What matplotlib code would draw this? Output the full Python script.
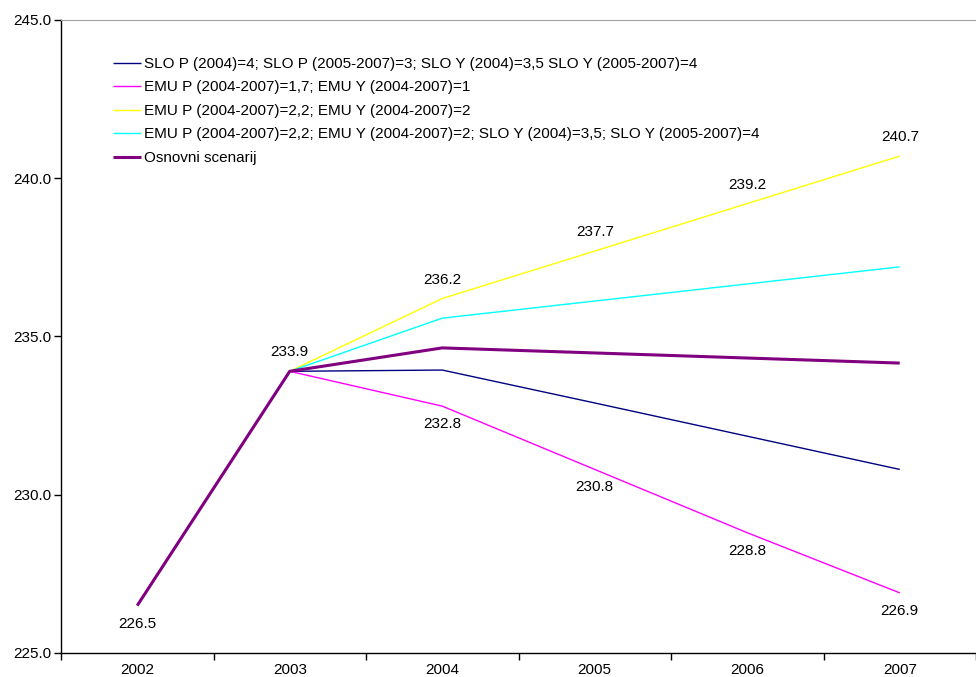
import matplotlib
matplotlib.use("Agg")
import matplotlib.pyplot as plt

plt.rcParams['font.family'] = ['Liberation Sans', 'DejaVu Sans']

years = ["2002", "2003", "2004", "2005", "2006", "2007"]

slo = [226.5, 233.9, 233.94, 232.9, 231.85, 230.8]
emu_low = [226.5, 233.9, 232.8, 230.8, 228.8, 226.9]
emu_high = [226.5, 233.9, 236.2, 237.7, 239.2, 240.7]
emu_slo = [226.5, 233.9, 235.58, 236.12, 236.66, 237.2]
base = [226.5, 233.9, 234.64, 234.48, 234.32, 234.16]

series_names = [
    "SLO P (2004)=4; SLO P (2005-2007)=3; SLO Y (2004)=3,5 SLO Y (2005-2007)=4",
    "EMU P (2004-2007)=1,7; EMU Y (2004-2007)=1",
    "EMU P (2004-2007)=2,2; EMU Y (2004-2007)=2",
    "EMU P (2004-2007)=2,2; EMU Y (2004-2007)=2; SLO Y (2004)=3,5; SLO Y (2005-2007)=4",
    "Osnovni scenarij",
]
series_values = [slo, emu_low, emu_high, emu_slo, base]
colors = ["#000080", "#FF00FF", "#FFFF00", "#00FFFF", "#800080"]
widths = [1.0, 1.0, 1.0, 1.0, 2.2]

FS = 11

fig = plt.figure(figsize=(9.76, 6.77), dpi=100)
ax = fig.add_axes([61 / 976, 24 / 677, 1 - 61 / 976, 633 / 677])

x = list(range(len(years)))
for vals, name, c, lw in zip(series_values, series_names, colors, widths):
    ax.plot(x, vals, color=c, lw=lw, label=name, solid_capstyle='butt')

# value labels
def label(i, v, dy):
    ax.annotate(f"{v:.1f}", (i, v), xytext=(0, dy), textcoords='offset pixels',
                ha='center', va='center', fontsize=FS, color='black')

label(0, base[0], -18)
label(1, base[1], 19)
for i in range(2, 6):
    label(i, emu_high[i], 19)
    label(i, emu_low[i], -18)

ax.set_ylim(225, 245)
ax.set_yticks([225, 230, 235, 240, 245])
ax.set_yticklabels([f"{v:.1f}" for v in [225, 230, 235, 240, 245]], fontsize=FS)
ax.set_xlim(-0.5, 5.5 - 18 / 155.5)
ax.set_xticks(x)
ax.set_xticklabels(years, fontsize=FS)
ax.set_xticks([i - 0.5 for i in range(7)], minor=True)
ax.tick_params(axis='x', which='major', length=0, pad=7)
ax.tick_params(axis='x', which='minor', length=5, direction='out', width=1)
ax.tick_params(axis='y', length=5, direction='out', width=1, pad=2)

ax.spines['right'].set_visible(False)
ax.spines['top'].set_color('#A0A0A0')
ax.spines['left'].set_linewidth(1)
ax.spines['bottom'].set_linewidth(1)

leg = ax.legend(loc='upper left', bbox_to_anchor=(113 / 976, 1 - 57 / 677),
                bbox_transform=fig.transFigure, frameon=False, fontsize=FS,
                handlelength=1.8, handletextpad=0.2, labelspacing=0.62,
                borderaxespad=0, borderpad=0)

fig.savefig("out.png", dpi=100)
